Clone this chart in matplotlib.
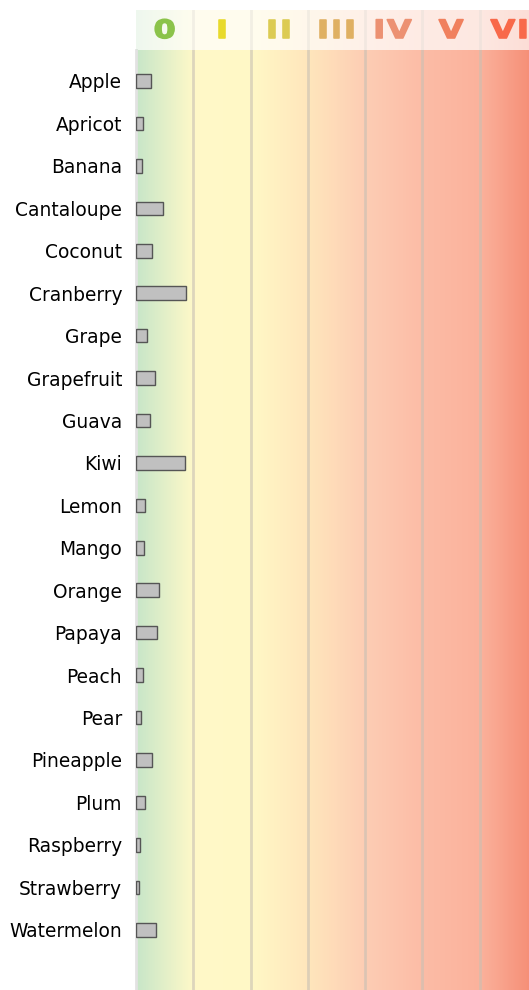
import numpy as np
import matplotlib
matplotlib.use("Agg")
import matplotlib.pyplot as plt
from matplotlib.colors import LinearSegmentedColormap
from matplotlib.textpath import TextPath, text_to_path
from matplotlib.patches import PathPatch
from matplotlib.path import Path
from matplotlib.font_manager import FontProperties
import matplotlib.transforms as mtransforms

# data
fruits = ["Apple", "Apricot", "Banana", "Cantaloupe", "Coconut", "Cranberry",
          "Grape", "Grapefruit", "Guava", "Kiwi", "Lemon", "Mango", "Orange",
          "Papaya", "Peach", "Pear", "Pineapple", "Plum", "Raspberry",
          "Strawberry", "Watermelon"]
values = [0.26, 0.12, 0.11, 0.47, 0.28, 0.87, 0.19, 0.33, 0.24, 0.855, 0.15,
          0.14, 0.40, 0.36, 0.12, 0.09, 0.28, 0.15, 0.07, 0.05, 0.35]
levels = ["0", "I", "II", "III", "IV", "V", "VI"]
level_colors = ["#8bc34a", "#e8da2c", "#dccb52", "#dfb062", "#ec9172", "#f0805e", "#f8694a"]

# background gradient stops (position along x, colour)
stops = [(0.0, "#c8e6c9"), (1 / 7, "#fff9c8"), (2 / 7, "#fff8c6"),
         (3 / 7, "#ffe6bc"), (4 / 7, "#fdcdb4"), (5 / 7, "#fcbca6"),
         (6 / 7, "#fbb29c"), (1.0, "#f58a72")]
cmap = LinearSegmentedColormap.from_list("sev", stops)
grad = np.linspace(0, 1, 700).reshape(1, -1)

W, H = 529, 990
fig = plt.figure(figsize=(W / 100, H / 100), dpi=100)

x0 = 136 / W
wd = 401 / W
ax = fig.add_axes([x0, 0, wd, 1 - 50 / H])
hd = fig.add_axes([x0, 1 - 50 / H, wd, 40 / H])

n = len(fruits)
ypos = np.arange(n)
ax.set_ylim(n - 1 + 1.42, -0.73)
ax.set_xlim(0, 7)
ax.imshow(grad, cmap=cmap, aspect="auto", extent=(0, 7, n - 1 + 1.42, -0.73),
          zorder=0)
for b in range(1, 7):
    ax.axvline(b, color="#c8c0b4", alpha=0.6, lw=2, zorder=1)
ax.barh(ypos, values, height=0.32, color="#c0c0c0", edgecolor="#555555",
        linewidth=1, zorder=3)
ax.set_yticks(ypos)
ax.set_yticklabels(fruits, fontsize=13.4)
ax.tick_params(axis="y", length=0, pad=10)
ax.set_xticks([])
for s in ["top", "right", "bottom"]:
    ax.spines[s].set_visible(False)
ax.spines["left"].set_color("#e2e2e2")
ax.spines["left"].set_linewidth(2)

# header strip
hd.set_xlim(0, 7)
hd.set_ylim(0, 1)
hd.imshow(grad, cmap=cmap, aspect="auto", extent=(0, 7, 0, 1), alpha=0.3)
for b in range(1, 7):
    hd.axvline(b, color="#e0dcd6", alpha=0.4, lw=2)

# heavy, wide numerals: bold glyphs, stretched, spaced and outlined
fp = FontProperties(family="DejaVu Sans", weight="bold", size=100)
cap_px, stretch, gap_px, stroke_px = 18.4, 1.25, 2.0, 1.6
ref = TextPath((0, 0), "I", prop=fp).get_extents()
k = cap_px / (ref.y1 - ref.y0)
for i, (lab, c) in enumerate(zip(levels, level_colors)):
    parts = []
    for j, ch in enumerate(lab):
        xoff = 0.0
        if j:
            xoff = text_to_path.get_text_width_height_descent(lab[:j], fp, ismath=False)[0]
        xoff += j * gap_px / (k * stretch)
        parts.append(TextPath((xoff, 0), ch, prop=fp))
    tp = Path.make_compound_path(*parts)
    ext = tp.get_extents()
    cx = (ext.x0 + ext.x1) / 2
    cy = (ext.y0 + ext.y1) / 2
    tr = (mtransforms.Affine2D().translate(-cx, -cy).scale(stretch * k / 100, k / 100)
          + fig.dpi_scale_trans
          + mtransforms.ScaledTranslation(i + 0.5, 0.53, hd.transData))
    hd.add_patch(PathPatch(tp, transform=tr, facecolor=c, edgecolor=c,
                           lw=stroke_px * 0.72, joinstyle="round"))
hd.axis("off")

fig.savefig("out.png", dpi=100)
